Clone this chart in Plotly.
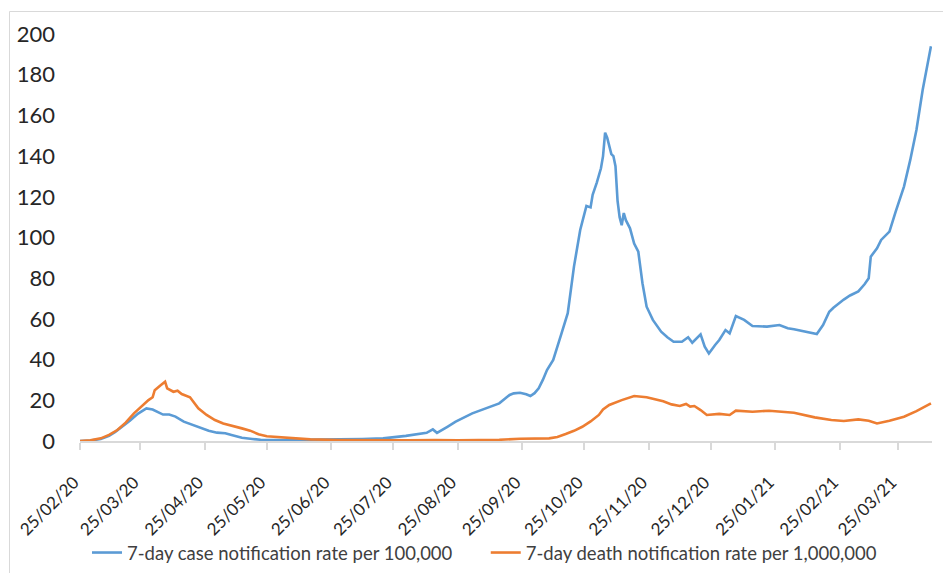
import plotly.graph_objects as go

# ---- data ----
case_dates = [
    "2020-02-25", "2020-03-01", "2020-03-06", "2020-03-10", "2020-03-13", "2020-03-17",
    "2020-03-20", "2020-03-24", "2020-03-28", "2020-03-31", "2020-04-02", "2020-04-05",
    "2020-04-08", "2020-04-11", "2020-04-15", "2020-04-19", "2020-04-23", "2020-04-27",
    "2020-05-01", "2020-05-05", "2020-05-08", "2020-05-13", "2020-05-18", "2020-05-22",
    "2020-06-01", "2020-06-15", "2020-06-29", "2020-07-10", "2020-07-20", "2020-07-31",
    "2020-08-10", "2020-08-13", "2020-08-15", "2020-08-20", "2020-08-24", "2020-09-01",
    "2020-09-05", "2020-09-09", "2020-09-14", "2020-09-17", "2020-09-19", "2020-09-21",
    "2020-09-24", "2020-09-27", "2020-09-29", "2020-10-01", "2020-10-03", "2020-10-05",
    "2020-10-07", "2020-10-10", "2020-10-12", "2020-10-14", "2020-10-17", "2020-10-20",
    "2020-10-23", "2020-10-26", "2020-10-28", "2020-10-29", "2020-10-31", "2020-11-02",
    "2020-11-03", "2020-11-04", "2020-11-05", "2020-11-07", "2020-11-08", "2020-11-09",
    "2020-11-10", "2020-11-11", "2020-11-12", "2020-11-13", "2020-11-14", "2020-11-16",
    "2020-11-18", "2020-11-20", "2020-11-22", "2020-11-24", "2020-11-27", "2020-12-01",
    "2020-12-04", "2020-12-07", "2020-12-11", "2020-12-14", "2020-12-16", "2020-12-20",
    "2020-12-22", "2020-12-24", "2020-12-27", "2020-12-29", "2021-01-01", "2021-01-03",
    "2021-01-06", "2021-01-08", "2021-01-10", "2021-01-14", "2021-01-21", "2021-01-27",
    "2021-01-31", "2021-02-03", "2021-02-07", "2021-02-11", "2021-02-14", "2021-02-17",
    "2021-02-20", "2021-02-22", "2021-02-25", "2021-02-27", "2021-03-02", "2021-03-06",
    "2021-03-09", "2021-03-11", "2021-03-12", "2021-03-15", "2021-03-17", "2021-03-21",
    "2021-03-24", "2021-03-28", "2021-03-31", "2021-04-03", "2021-04-06", "2021-04-10",
]
case_rate = [
    0, 0.2, 1, 2.5, 4.5, 7.5,
    10, 13.5, 16, 15.5, 14.5, 13,
    13, 12, 9.5, 8, 6.2, 5,
    4.1, 3.8, 3, 1.6, 1.0, 0.6,
    0.5, 0.5, 0.8, 1.0, 1.3, 2.5,
    4, 5.7, 4, 7, 9.5, 13.6,
    15, 16.5, 18.5, 21, 22.6, 23.4,
    23.7, 23, 22.1, 23.5, 25.9, 30,
    34.9, 39.8, 46, 52.9, 62.8, 85.7,
    103.7, 115.5, 114.8, 121, 127, 134,
    140, 151.5, 149, 141, 140, 135,
    118, 110, 106, 112, 108.5, 104.5,
    97, 93, 77.5, 66, 59.5, 53.7,
    51, 48.8, 48.8, 51, 48.3, 52.4,
    46.3, 43, 47.2, 49.6, 54.5, 52.9,
    61.4, 60.5, 59.5, 56.5, 56.2, 57,
    55.4, 54.9, 54, 52.9, 52.6, 57,
    63.5, 65.5, 68, 69.5, 71.5, 73.5,
    77, 80, 90.6, 94.7, 98.8, 102.9,
    112.7, 125, 138, 152.8, 172.5, 194,
]

death_dates = [
    "2020-02-25", "2020-03-01", "2020-03-06", "2020-03-10", "2020-03-14", "2020-03-18",
    "2020-03-22", "2020-03-26", "2020-03-29", "2020-03-31", "2020-04-01", "2020-04-04",
    "2020-04-06", "2020-04-07", "2020-04-10", "2020-04-12", "2020-04-14", "2020-04-18",
    "2020-04-22", "2020-04-26", "2020-04-30", "2020-05-04", "2020-05-08", "2020-05-13",
    "2020-05-17", "2020-05-21", "2020-05-25", "2020-06-01", "2020-06-06", "2020-06-15",
    "2020-06-29", "2020-07-15", "2020-08-01", "2020-08-14", "2020-08-25", "2020-09-14",
    "2020-09-24", "2020-10-08", "2020-10-12", "2020-10-16", "2020-10-20", "2020-10-24",
    "2020-10-28", "2020-11-01", "2020-11-03", "2020-11-06", "2020-11-12", "2020-11-18",
    "2020-11-24", "2020-12-02", "2020-12-06", "2020-12-10", "2020-12-13", "2020-12-15",
    "2020-12-17", "2020-12-20", "2020-12-23", "2020-12-29", "2021-01-03", "2021-01-06",
    "2021-01-14", "2021-01-22", "2021-01-31", "2021-02-03", "2021-02-13", "2021-02-21",
    "2021-02-27", "2021-03-06", "2021-03-11", "2021-03-15", "2021-03-21", "2021-03-28",
    "2021-04-03", "2021-04-10",
]
death_rate = [
    0, 0.3, 1.3, 3, 5.4, 9,
    13.6, 17.5, 20.1, 21.5, 25, 27.5,
    29.1, 25.9, 24.2, 24.7, 23.1, 21.5,
    16.1, 12.8, 10.3, 8.6, 7.4, 6.2,
    5.1, 3.3, 2.3, 1.8, 1.3, 0.8,
    0.5, 0.3, 0.3, 0.5, 0.3, 0.6,
    1.1, 1.3, 2, 3.4, 5, 7,
    9.6, 12.8, 15.5, 17.7, 20.1, 22.1,
    21.5, 19.5, 18, 17.2, 18.2, 16.9,
    17.2, 15.2, 12.8, 13.3, 12.8, 14.9,
    14.4, 14.9, 14.4, 13.9, 11.6, 10.3,
    9.8, 10.6, 10, 8.6, 10, 11.9,
    14.7, 18.5,
]

tick_dates = [
    "2020-02-25", "2020-03-25", "2020-04-25", "2020-05-25", "2020-06-25", "2020-07-25",
    "2020-08-25", "2020-09-25", "2020-10-25", "2020-11-25", "2020-12-25", "2021-01-25",
    "2021-02-25", "2021-03-25",
]
tick_labels = [
    "25/02/20", "25/03/20", "25/04/20", "25/05/20", "25/06/20", "25/07/20",
    "25/08/20", "25/09/20", "25/10/20", "25/11/20", "25/12/20", "25/01/21",
    "25/02/21", "25/03/21",
]
y_ticks = [0, 20, 40, 60, 80, 100, 120, 140, 160, 180, 200]

series_names = [
    "7-day case notification rate per 100,000",
    "7-day death notification rate per 1,000,000",
]

FONT = "Lato, 'Open Sans', sans-serif"
BLUE = "#5B9BD5"
ORANGE = "#ED7D31"
NBSP = "\u00a0"

# page body adds an 8px offset; figure sized to fit the window
W, H = 943, 565
L, R, T, B = 72, 19, 26, 132
PW, PH = W - L - R, H - T - B

fig = go.Figure()
fig.add_trace(go.Scatter(x=case_dates, y=case_rate, mode="lines",
                         name=series_names[0] + NBSP * 6,
                         line=dict(color=BLUE, width=2.6)))
fig.add_trace(go.Scatter(x=death_dates, y=death_rate, mode="lines",
                         name=series_names[1],
                         line=dict(color=ORANGE, width=2.6)))

fig.update_layout(
    width=W, height=H,
    margin=dict(l=L, r=R, t=T, b=B, autoexpand=False),
    paper_bgcolor="white", plot_bgcolor="white",
    font=dict(family=FONT, color="#262626"),
    showlegend=True,
    legend=dict(orientation="h", x=(79 - L) / PW, xanchor="left",
                y=-(545 - 433) / PH, yanchor="middle",
                font=dict(size=18.5, color="#404040", family=FONT),
                bgcolor="rgba(0,0,0,0)", itemwidth=30, tracegroupgap=0),
    xaxis=dict(
        type="date",
        range=["2020-02-25", "2021-04-10 12:00"],
        tickvals=tick_dates, ticktext=[t + NBSP * 2 for t in tick_labels],
        tickangle=-45,
        tickfont=dict(size=17, color="#262626", family=FONT),
        ticks="outside", ticklen=7, tickcolor="#d9d9d9", tickwidth=1.5,
        ticklabelstandoff=10,
        showline=True, linecolor="#d9d9d9", linewidth=1.5,
        showgrid=False, zeroline=False, automargin=False,
    ),
    yaxis=dict(
        range=[0, 200],
        tickvals=y_ticks,
        tickfont=dict(size=22, color="#262626", family=FONT),
        ticks="", ticklabelstandoff=24,
        showline=False, showgrid=False, zeroline=False, automargin=False,
    ),
)

# light frame around chart (left/top edges visible)
fig.add_shape(type="rect", xref="paper", yref="paper",
              x0=(1.5 - L) / PW, x1=(W + 20 - L) / PW,
              y0=-(H + 20 - T - PH) / PH - 1, y1=1 + (T - 3.5) / PH,
              line=dict(color="#d9d9d9", width=1), fillcolor="rgba(0,0,0,0)", layer="below")

fig.write_html("out.html")
